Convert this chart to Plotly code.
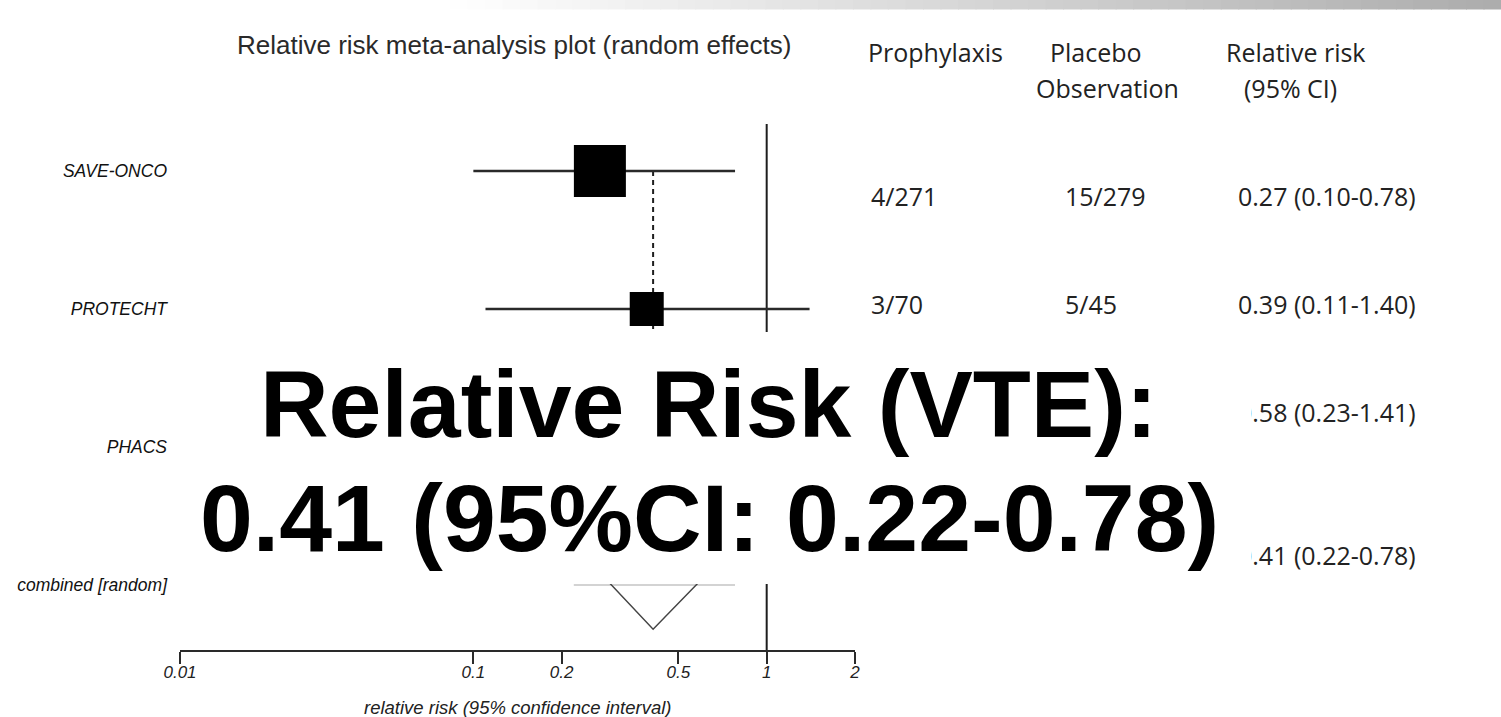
import plotly.graph_objects as go

# ---------------- data ----------------
studies = ["SAVE-ONCO", "PROTECHT", "PHACS"]
rr = [0.27, 0.39, 0.58]
ci_low = [0.10, 0.11, 0.23]
ci_high = [0.78, 1.40, 1.41]
weight_box_px = [52, 34, 40]          # marker side in px (study weight)

combined_label = "combined [random]"
comb_rr = 0.41
comb_low = 0.22
comb_high = 0.78

prop_events = [4, 3]
prop_n = [271, 70]
plac_events = [15, 5]
plac_n = [279, 45]

tick_vals = [0.01, 0.1, 0.2, 0.5, 1, 2]
tick_text = ["0.01", "0.1", "0.2", "0.5", "1", "2"]

# ---------------- geometry helpers ----------------
W, H = 1501, 717
ML, MR, MT, MB = 180, 646, 124, 67
PW = W - ML - MR
PH = H - MT - MB
ROW0_PX, ROW_STEP = 171, 138


def px2x(px):
    return (px - ML) / PW


def py2y(py):
    return (H - MB - py) / PH


y_top = (MT - ROW0_PX) / ROW_STEP
y_bot = (H - MB - ROW0_PX) / ROW_STEP

INK = "#1e1e1e"
fig = go.Figure()

# reference line at RR = 1
fig.add_trace(go.Scatter(x=[1, 1], y=[y_top, y_bot], mode="lines",
                         line=dict(color=INK, width=2), hoverinfo="skip"))

# dashed line at pooled estimate
diam_c = 2.71
diam_h = 0.61
fig.add_trace(go.Scatter(x=[comb_rr, comb_rr], y=[0, diam_c - diam_h], mode="lines",
                         line=dict(color=INK, width=2, dash="5px,4px"), hoverinfo="skip"))

# study CIs and boxes
for i in range(len(studies)):
    fig.add_trace(go.Scatter(x=[ci_low[i], ci_high[i]], y=[i, i], mode="lines",
                             line=dict(color="#2a2a2a", width=2.4), hoverinfo="skip"))
    fig.add_trace(go.Scatter(x=[rr[i]], y=[i], mode="markers",
                             marker=dict(symbol="square", size=weight_box_px[i], color="black",
                                         line=dict(width=0)), hoverinfo="skip"))

# pooled CI (thin grey) and diamond
fig.add_trace(go.Scatter(x=[comb_low, comb_high], y=[3, 3], mode="lines",
                         line=dict(color="#a8a8a8", width=1.2), hoverinfo="skip"))
fig.add_trace(go.Scatter(x=[comb_low, comb_rr, comb_high, comb_rr, comb_low],
                         y=[diam_c, diam_c - diam_h, diam_c, diam_c + diam_h, diam_c],
                         mode="lines", line=dict(color="#444444", width=1.5), hoverinfo="skip"))

shapes = []
# top gradient bar (decoration)
nseg = 60
x_start, x_end = 450, W
for k in range(nseg):
    t = (k + 0.5) / nseg
    c = int(round(255 - (255 - 172) * t))
    shapes.append(dict(type="rect", xref="paper", yref="paper",
                       x0=px2x(x_start + (x_end - x_start) * k / nseg),
                       x1=px2x(x_start + (x_end - x_start) * (k + 1) / nseg + 1),
                       y0=py2y(9.5), y1=py2y(0),
                       fillcolor=f"rgb({c},{c},{c})", line=dict(width=0), layer="above"))

annotations = []
lab_font = dict(family="Liberation Sans, Arial", size=17.5, color="#111111", style="italic")

# title of forest plot
annotations.append(dict(text="Relative risk meta-analysis plot (random effects)",
                        xref="paper", yref="paper", x=px2x(514), y=py2y(45),
                        xanchor="center", yanchor="middle", showarrow=False,
                        font=dict(family="Liberation Sans, Arial", size=26, color="#2a2a2a")))

# axis title
annotations.append(dict(text="relative risk (95% confidence interval)",
                        xref="paper", yref="paper", x=px2x(517), y=py2y(707),
                        xanchor="center", yanchor="middle", showarrow=False,
                        font=dict(family="Liberation Sans, Arial", size=18.5, color="#222222",
                                  style="italic")))

# table
tfont = dict(family="Open Sans", size=25, color="#222222")


def tab(text, px, py):
    annotations.append(dict(text=text, xref="paper", yref="paper", x=px2x(px), y=py2y(py),
                            xanchor="left", yanchor="middle", showarrow=False, font=tfont))


tab("Prophylaxis", 866, 52)
tab("Placebo", 1048, 52)
tab("Observation", 1034, 88)
tab("Relative risk", 1224, 52)
tab("(95% CI)", 1242, 88)

row_text_y = [196, 304, 412, 555]
for i in range(len(prop_events)):
    tab(f"{prop_events[i]}/{prop_n[i]}", 869, row_text_y[i])
    tab(f"{plac_events[i]}/{plac_n[i]}", 1063, row_text_y[i])
for i in range(len(studies)):
    tab(f"{rr[i]:.2f} ({ci_low[i]:.2f}-{ci_high[i]:.2f})", 1236, row_text_y[i])
tab(f"{comb_rr:.2f} ({comb_low:.2f}-{comb_high:.2f})", 1236, row_text_y[3])

# white panel behind the big caption (covers part of plot and table)
BOX_L, BOX_R, BOX_T, BOX_B = 172, 1251, 332, 584
annotations.append(dict(text=" ", xref="paper", yref="paper",
                        x=px2x((BOX_L + BOX_R) / 2), y=py2y((BOX_T + BOX_B) / 2),
                        xanchor="center", yanchor="middle", showarrow=False,
                        width=BOX_R - BOX_L, height=BOX_B - BOX_T, bgcolor="white",
                        borderpad=0, borderwidth=0, font=dict(size=10)))

# big caption
big = dict(family="Liberation Sans, Arial", size=95, color="black", weight="bold")
annotations.append(dict(text="Relative Risk (VTE):", xref="paper", yref="paper",
                        x=px2x(709), y=py2y(404), xanchor="center", yanchor="middle",
                        showarrow=False, font=big))
annotations.append(dict(text=f"{comb_rr:.2f} (95%CI: {comb_low:.2f}-{comb_high:.2f})",
                        xref="paper", yref="paper",
                        x=px2x(709), y=py2y(518), xanchor="center", yanchor="middle",
                        showarrow=False, font=big))

fig.update_layout(
    width=W, height=H,
    margin=dict(l=ML, r=MR, t=MT, b=MB, pad=0),
    paper_bgcolor="white", plot_bgcolor="white",
    showlegend=False,
    shapes=shapes,
    annotations=annotations,
    xaxis=dict(type="log", range=[-2, 0.30103], showgrid=False, zeroline=False,
               showline=True, linecolor="#2a2a2a", linewidth=2,
               ticks="outside", ticklen=12, tickwidth=2, tickcolor="#2a2a2a",
               tickvals=tick_vals, ticktext=tick_text, ticklabelstandoff=-6,
               tickfont=dict(family="Liberation Sans, Arial", size=17, color="#222222",
                             style="italic")),
    yaxis=dict(range=[y_bot, y_top], showgrid=False, zeroline=False, showline=False,
               ticks="", tickvals=[0, 1, 2, 3], ticktext=studies + [combined_label],
               tickfont=lab_font, ticklabelstandoff=12),
)

fig.write_html("out.html", config={"displayModeBar": False})
